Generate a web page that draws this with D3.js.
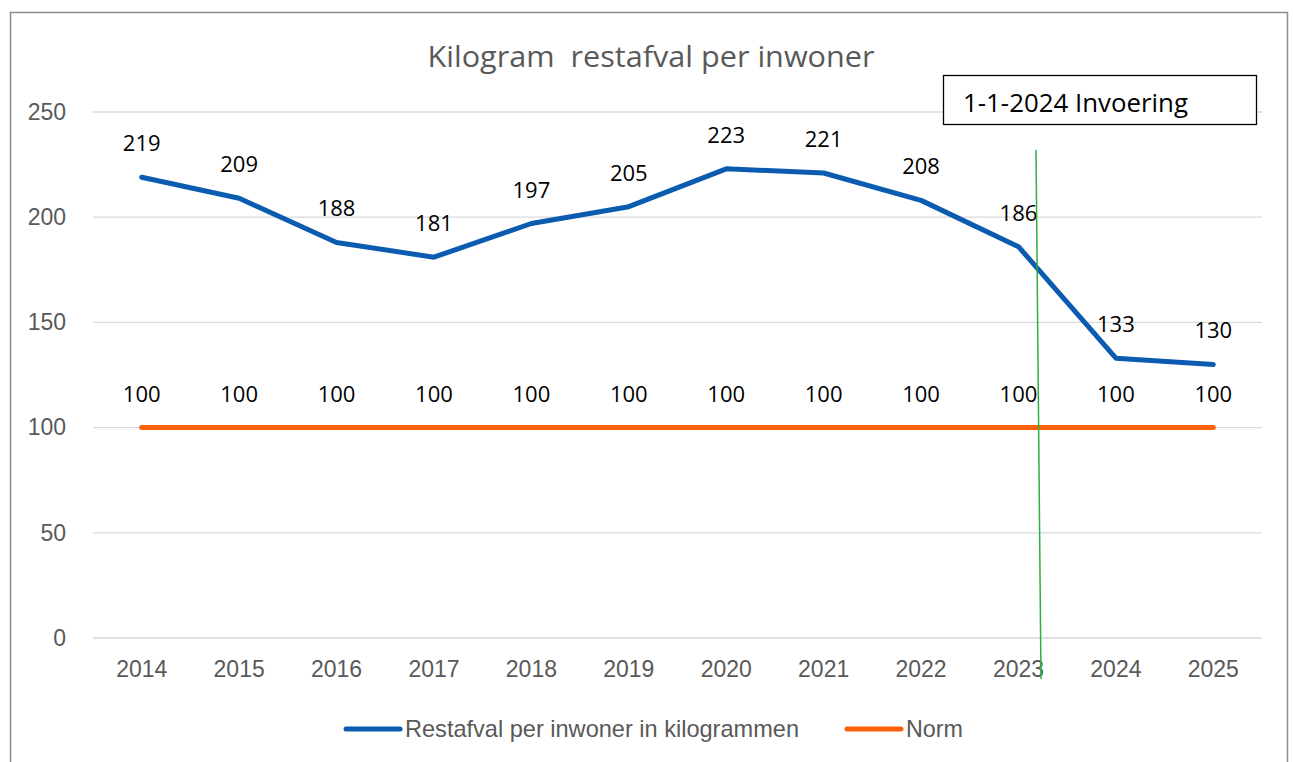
<!DOCTYPE html>
<html>
<head>
<meta charset="utf-8">
<script src="https://cdn.jsdelivr.net/npm/d3@7"></script>
<style>
  body { margin: 0; background: #fff; }
  svg { display: block; }
</style>
</head>
<body>
<svg id="chart" width="1293" height="762"></svg>
<script>
const years = ["2014", "2015", "2016", "2017", "2018", "2019", "2020", "2021", "2022", "2023", "2024", "2025"];
const restafval = [219, 209, 188, 181, 197, 205, 223, 221, 208, 186, 133, 130];
const norm = [100, 100, 100, 100, 100, 100, 100, 100, 100, 100, 100, 100];
const yTicks = [0, 50, 100, 150, 200, 250];
const seriesNames = ["Restafval per inwoner in kilogrammen", "Norm"];

const blue = "#0b5cb0";
const orange = "#fb610a";

const svg = d3.select("#chart");

// chart frame
svg.append("rect")
    .attr("x", 10.5).attr("y", 12.5)
    .attr("width", 1277).attr("height", 760)
    .attr("fill", "#fff")
    .attr("stroke", "#8c8c8c")
    .attr("stroke-width", 1.5);

const x = d3.scaleBand().domain(years).range([93, 1262]);
const y = d3.scaleLinear().domain([0, 250]).range([638, 112]);

// gridlines
svg.append("g")
    .selectAll("line")
    .data(yTicks)
    .join("line")
    .attr("x1", 93).attr("x2", 1262)
    .attr("y1", d => y(d)).attr("y2", d => y(d))
    .attr("stroke", "#d9d9d9")
    .attr("stroke-width", 1.3);

const yAxis = svg.append("g")
    .attr("transform", "translate(66,0)")
    .call(d3.axisLeft(y).tickValues(yTicks).tickSize(0).tickPadding(0));
yAxis.select(".domain").remove();
yAxis.selectAll("text")
    .attr("fill", "#595959")
    .style("font-family", "Liberation Sans, Arial, sans-serif")
    .style("font-size", "23px");

const xAxis = svg.append("g")
    .attr("transform", "translate(0,657)")
    .call(d3.axisBottom(x).tickSize(0).tickPadding(0));
xAxis.select(".domain").remove();
xAxis.selectAll("text")
    .attr("dy", "0.85em")
    .attr("fill", "#595959")
    .style("font-family", "Liberation Sans, Arial, sans-serif")
    .style("font-size", "23px");

const cx = d => x(d) + x.bandwidth() / 2;

const line = d3.line()
    .x((d, i) => cx(years[i]))
    .y(d => y(d));

svg.append("path")
    .datum(norm)
    .attr("d", line)
    .attr("fill", "none")
    .attr("stroke", orange)
    .attr("stroke-width", 5)
    .attr("stroke-linecap", "round");

svg.append("path")
    .datum(restafval)
    .attr("d", line)
    .attr("fill", "none")
    .attr("stroke", blue)
    .attr("stroke-width", 5)
    .attr("stroke-linejoin", "round")
    .attr("stroke-linecap", "round");

// data labels
function labels(values) {
    svg.append("g")
        .selectAll("text")
        .data(values)
        .join("text")
        .attr("x", (d, i) => cx(years[i]))
        .attr("y", d => y(d) - 26)
        .attr("text-anchor", "middle")
        .attr("fill", "#000")
        .style("font-family", "Open Sans, Liberation Sans, sans-serif")
        .style("font-size", "22px")
        .text(d => d);
}
labels(restafval);
labels(norm);

// title
svg.append("text")
    .attr("x", 651).attr("y", 67)
    .attr("text-anchor", "middle")
    .attr("fill", "#595959")
    .style("font-family", "Open Sans, Liberation Sans, sans-serif")
    .style("font-size", "30px")
    .style("white-space", "pre")
    .attr("textLength", 447)
    .attr("lengthAdjust", "spacingAndGlyphs")
    .text("Kilogram  restafval per inwoner");

// introduction marker
svg.append("line")
    .attr("x1", 1036).attr("y1", 150)
    .attr("x2", 1041).attr("y2", 679)
    .attr("stroke", "#2eb03a")
    .attr("stroke-width", 1.5);

svg.append("rect")
    .attr("x", 943.5).attr("y", 75.5)
    .attr("width", 313).attr("height", 49)
    .attr("fill", "#fff")
    .attr("stroke", "#000")
    .attr("stroke-width", 1.3);
svg.append("text")
    .attr("x", 963).attr("y", 112)
    .attr("fill", "#000")
    .style("font-family", "Open Sans, Liberation Sans, sans-serif")
    .style("font-size", "25px")
    .attr("textLength", 225)
    .attr("lengthAdjust", "spacingAndGlyphs")
    .text("1-1-2024 Invoering");

// legend
const legend = svg.append("g");
const legendItems = [
    { name: seriesNames[0], color: blue, x: 346, w: 394 },
    { name: seriesNames[1], color: orange, x: 847, w: 57 }
];
const li = legend.selectAll("g").data(legendItems).join("g")
    .attr("transform", d => `translate(${d.x},729)`);
li.append("line")
    .attr("x1", 0).attr("x2", 54)
    .attr("stroke", d => d.color)
    .attr("stroke-width", 5)
    .attr("stroke-linecap", "round");
li.append("text")
    .attr("x", 59).attr("y", 8)
    .attr("fill", "#595959")
    .style("font-family", "Liberation Sans, Arial, sans-serif")
    .style("font-size", "24px")
    .attr("textLength", d => d.w)
    .attr("lengthAdjust", "spacingAndGlyphs")
    .text(d => d.name);
</script>
</body>
</html>
